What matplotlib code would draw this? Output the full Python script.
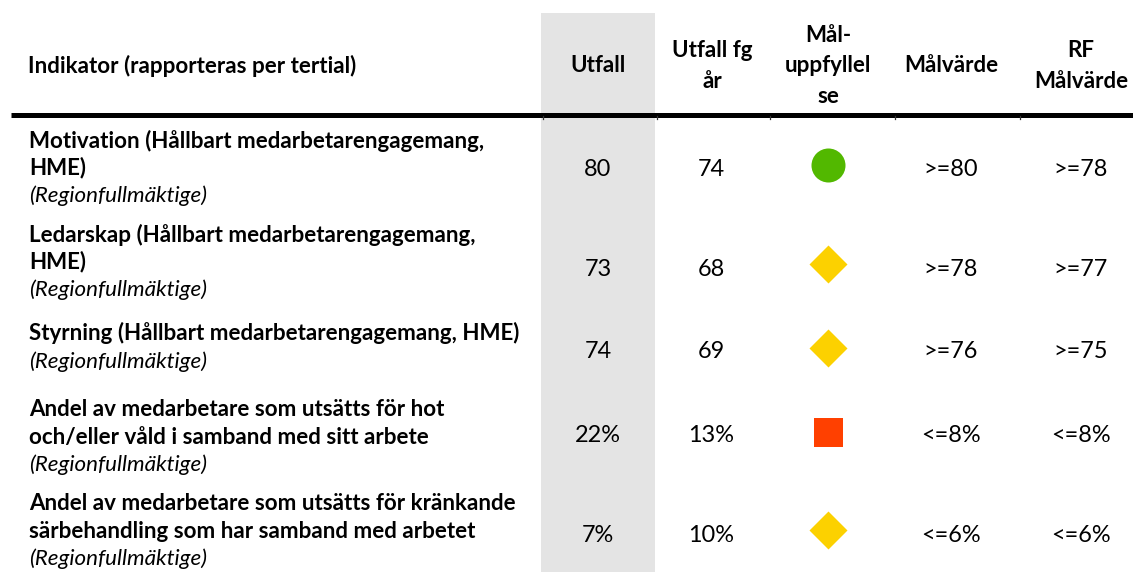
import matplotlib
matplotlib.use("Agg")
import matplotlib.pyplot as plt

# ---------------- data ----------------
header_indicator = "Indikator (rapporteras per tertial)"
col_headers = ["Utfall", "Utfall fg\når", "Mål-\nuppfyllel\nse", "Målvärde", "RF\nMålvärde"]

indicator_titles = [
    ["Motivation (Hållbart medarbetarengagemang,", "HME)"],
    ["Ledarskap (Hållbart medarbetarengagemang,", "HME)"],
    ["Styrning (Hållbart medarbetarengagemang, HME)"],
    ["Andel av medarbetare som utsätts för hot", "och/eller våld i samband med sitt arbete"],
    ["Andel av medarbetare som utsätts för kränkande", "särbehandling som har samband med arbetet"],
]
indicator_source = ["(Regionfullmäktige)"] * 5

utfall = ["80", "73", "74", "22%", "7%"]
utfall_fg = ["74", "68", "69", "13%", "10%"]
status = ["green", "yellow", "yellow", "red", "yellow"]
malvarde = [">=80", ">=78", ">=76", "<=8%", "<=6%"]
rf_malvarde = [">=78", ">=77", ">=75", "<=8%", "<=6%"]

# ---------------- layout ----------------
W, H = 1133, 572
fig = plt.figure(figsize=(W / 100, H / 100), dpi=100)
ax = fig.add_axes([0, 0, 1, 1])
ax.set_xlim(0, W)
ax.set_ylim(H, 0)
ax.axis("off")

FAM = ["Lato", "DejaVu Sans"]
TXT = "#000000"

# fit font size to the reference text width
probe = ax.text(0, 0, "Andel av medarbetare som utsätts för kränkande",
                fontsize=10, fontweight="bold", family=FAM)
fig.canvas.draw()
pw = probe.get_window_extent().width
probe.remove()
FS = 10 * 487 / pw
FSV = FS * 1.05

# grey "Utfall" column
ax.add_patch(plt.Rectangle((541, 13), 655 - 541, H - 13, color="#E4E4E4", lw=0, zorder=0))

# header rule
ax.plot([11, W], [114.5, 114.5], color="black", lw=3.6, solid_capstyle="butt", zorder=3)
for xb in [543, 657, 770, 895, 1020]:
    ax.plot([xb, xb], [116, 118.5], color="#333333", lw=0.9, zorder=3)

# header text
ax.text(28, 64, header_indicator, fontsize=FS, fontweight="bold", family=FAM,
        ha="left", va="center_baseline", color=TXT)
col_x = [598, 712, 828, 951, 1081]
HLS = 30.5
for x, h in zip(col_x, col_headers):
    lines = h.split("\n")
    y0 = 64 - HLS * (len(lines) - 1) / 2
    for k, ln in enumerate(lines):
        ax.text(x, y0 + k * HLS, ln, fontsize=FS, fontweight="bold", family=FAM,
                ha="center", va="center_baseline", color=TXT)

# body rows
block_base = [147.5, 241.5, 340.5, 416.5, 510.5]
LS = 27.3
value_center = [167, 267, 350, 434, 533]
marker_center = [165, 264, 348, 432, 530]

for i in range(5):
    y = block_base[i]
    for line in indicator_titles[i]:
        ax.text(29, y, line, fontsize=FS, fontweight="bold", family=FAM,
                ha="left", va="baseline", color=TXT)
        y += LS
    ax.text(29, y, indicator_source[i], fontsize=FS, style="italic", family=FAM,
            ha="left", va="baseline", color=TXT)

    yc = value_center[i]
    for x, v in zip([598, 711, 951, 1081], [utfall[i], utfall_fg[i], malvarde[i], rf_malvarde[i]]):
        ax.text(x, yc, v, fontsize=FSV, family=FAM, ha="center", va="center_baseline",
                color=TXT)

# status markers
marker_style = {
    "green": dict(marker="o", color="#52B800", s=(34 * 0.72) ** 2),
    "yellow": dict(marker=[(0, 1), (1, 0), (0, -1), (-1, 0)], color="#FCD100",
                   s=(38 * 0.72) ** 2),
    "red": dict(marker=[(-1, -1), (1, -1), (1, 1), (-1, 1)], color="#FF4000",
                s=(29 * 0.72) ** 2),
}
for st in marker_style:
    ys = [marker_center[i] for i in range(5) if status[i] == st]
    xs = [828] * len(ys)
    ms = marker_style[st]
    ax.scatter(xs, ys, marker=ms["marker"], s=ms["s"], c=ms["color"],
               linewidths=0, zorder=4)

fig.savefig("out.png", dpi=100)
